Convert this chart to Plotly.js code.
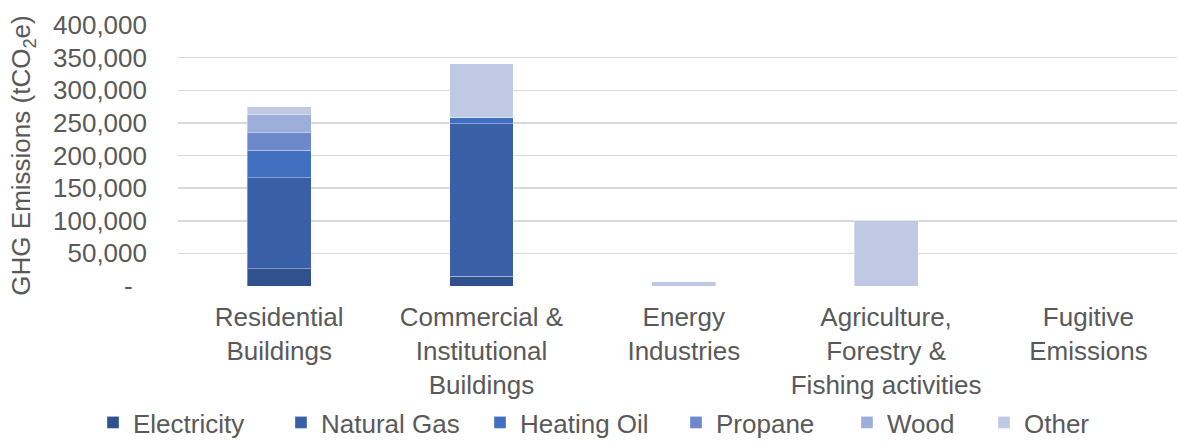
<!DOCTYPE html>
<html>
<head>
<meta charset="utf-8">
<script src="https://cdn.plot.ly/plotly-3.0.1.min.js"></script>
<style>html,body{margin:0;padding:0;background:#fff;}#chart{width:1177px;height:446px;}</style>
</head>
<body>
<div id="chart"></div>
<script>
const categories = [
  "Residential<br>Buildings",
  "Commercial &<br>Institutional<br>Buildings",
  "Energy<br>Industries",
  "Agriculture,<br>Forestry &<br>Fishing activities",
  "Fugitive<br>Emissions"
];
const electricity = [26500, 15000, 0, 0, 0];
const naturalGas  = [139500, 234000, 0, 0, 0];
const heatingOil  = [42000, 10000, 0, 0, 0];
const propane     = [26500, 0, 0, 0, 0];
const wood        = [29000, 0, 0, 0, 0];
const other       = [11000, 82000, 6500, 100000, 0];

const seriesNames = ["Electricity", "Natural Gas", "Heating Oil", "Propane", "Wood", "Other"];
const seriesData = [electricity, naturalGas, heatingOil, propane, wood, other];
const colors = ["#2F528F", "#3960A6", "#4170C0", "#6D89CC", "#9DAEDA", "#BFC9E4"];

const tickVals = [0, 50000, 100000, 150000, 200000, 250000, 300000, 350000, 400000];
const tickText = ["-\u00a0\u00a0", "50,000", "100,000", "150,000", "200,000", "250,000", "300,000", "350,000", "400,000"];

const FONT = "Liberation Sans, Arial, sans-serif";
const GRAY = "#595959";
const W = 1177;
// left pixel of each legend entry (one legend per series)
const legendLeft = [93, 281, 480, 676, 847, 984];

const traces = seriesNames.map((n, i) => ({
  type: "bar",
  name: n,
  x: categories,
  y: seriesData[i],
  legend: i === 0 ? "legend" : "legend" + (i + 1),
  marker: { color: colors[i], line: { width: 1, color: "rgba(255,255,255,0.35)" } },
  hoverinfo: "name+y"
}));

const layout = {
  width: W,
  height: 446,
  barmode: "stack",
  bargap: 0.684,
  margin: { l: 178, r: 0, t: 25, b: 160 },
  paper_bgcolor: "#fff",
  plot_bgcolor: "#fff",
  font: { family: FONT, size: 26, color: GRAY },
  xaxis: {
    type: "category",
    range: [-0.5, 4.438],
    showgrid: false,
    zeroline: false,
    showline: false,
    ticks: "",
    ticklabelstandoff: 13,
    tickfont: { family: FONT, size: 26, color: GRAY },
    automargin: false
  },
  yaxis: {
    range: [0, 400000],
    tickvals: tickVals,
    ticktext: tickText,
    showgrid: true,
    gridcolor: "#D9D9D9",
    gridwidth: 1.5,
    zeroline: false,
    showline: false,
    ticks: "",
    ticklabelstandoff: 30,
    tickfont: { family: FONT, size: 26, color: GRAY },
    automargin: false,
    title: { text: "GHG Emissions (tCO<sub>2</sub>e)", font: { family: FONT, size: 26, color: GRAY }, standoff: 14 }
  },
  showlegend: true
};

legendLeft.forEach((px, i) => {
  const key = i === 0 ? "legend" : "legend" + (i + 1);
  layout[key] = {
    orientation: "h",
    xref: "container",
    yref: "container",
    x: px / W,
    xanchor: "left",
    y: 0,
    yanchor: "bottom",
    bgcolor: "rgba(0,0,0,0)",
    font: { family: FONT, size: 26, color: GRAY }
  };
});

Plotly.newPlot("chart", traces, layout, { displayModeBar: false, staticPlot: true });
</script>
</body>
</html>
